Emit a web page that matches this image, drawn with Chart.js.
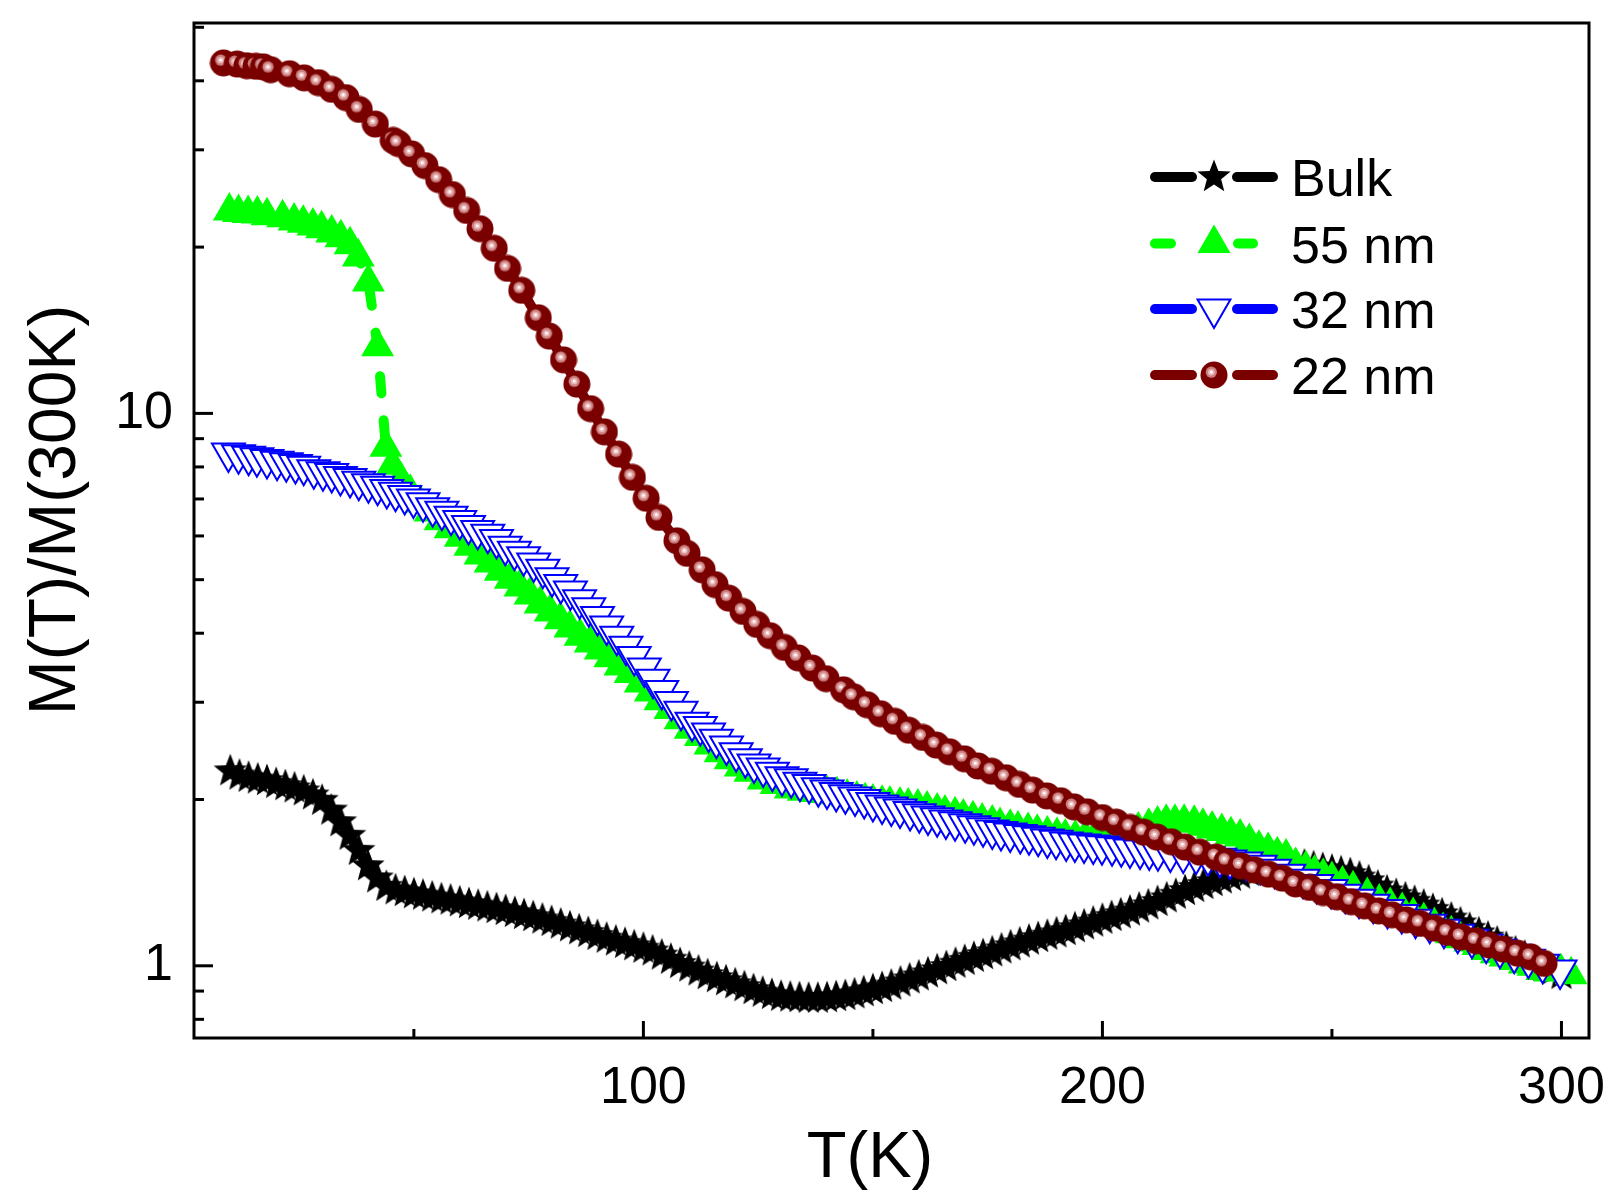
<!DOCTYPE html>
<html>
<head>
<meta charset="utf-8">
<script src="https://cdn.jsdelivr.net/npm/chart.js@4.4.1/dist/chart.umd.min.js"></script>
<style>
  html, body { margin: 0; padding: 0; background: #fff; }
  #wrap { width: 1604px; height: 1195px; }
</style>
</head>
<body>
<div id="wrap"><canvas id="chart" width="1604" height="1195"></canvas></div>
<script>
// Bulk
const tBulk = [10,12,14,16,18,20,22,24,26,28,
  30,32,34,36,38,40,42,44,46,48,
  50,52,54,56,58,60,62,64,66,68,
  70,72,74,76,78,80,82,84,86,88,
  90,92,94,96,98,100,102,104,106,108,
  110,112,114,116,118,120,122,124,126,128,
  130,132,134,136,138,140,142,144,146,148,
  150,152,154,156,158,160,162,164,166,168,
  170,172,174,176,178,180,182,184,186,188,
  190,192,194,196,198,200,202,204,206,208,
  210,212,214,216,218,220,222,224,226,228,
  230,232,234,236,238,240,242,244,246,248,
  250,252,254,256,258,260,262,264,266,268,
  270,272,274,276,278,280,282,284,286,288,
  290,292,294,296,298,300];
const mBulk = [2.25,2.21,2.19,2.175,2.16,2.135,2.115,2.095,2.07,2.035,
  1.99,1.91,1.82,1.72,1.615,1.515,1.44,1.39,1.37,1.36,
  1.348,1.34,1.33,1.32,1.313,1.303,1.294,1.285,1.276,1.267,
  1.257,1.247,1.236,1.225,1.213,1.201,1.188,1.174,1.160,1.147,
  1.133,1.12,1.107,1.096,1.085,1.074,1.062,1.044,1.026,1.008,
  0.993,0.977,0.962,0.95,0.938,0.926,0.915,0.904,0.894,0.886,
  0.879,0.876,0.874,0.872,0.872,0.874,0.878,0.882,0.888,0.896,
  0.904,0.912,0.921,0.933,0.945,0.957,0.969,0.982,0.995,1.009,
  1.021,1.034,1.046,1.058,1.071,1.085,1.098,1.111,1.123,1.134,
  1.145,1.156,1.17,1.184,1.198,1.212,1.226,1.24,1.254,1.27,
  1.287,1.305,1.325,1.345,1.366,1.384,1.401,1.418,1.434,1.449,
  1.463,1.478,1.489,1.50,1.513,1.518,1.52,1.519,1.508,1.498,
  1.487,1.477,1.466,1.445,1.423,1.392,1.364,1.344,1.325,1.306,
  1.286,1.263,1.24,1.218,1.194,1.167,1.145,1.125,1.102,1.078,
  1.058,1.039,1.018,0.996,0.98,0.963];

// 55 nm
const t55 = [9.8,11.8,13.9,15.9,18.0,21.4,23.9,25.9,28.0,29.9,
  32.1,34.1,36.1,37.9,40.1,42.1,43.9,45.3,47.2,49.2,
  51.4,53.5,55.7,57.9,60.1,62.2,64.4,66.6,68.8,71.0,
  73.1,75.3,77.5,79.7,81.9,84.0,86.2,88.4,90.6,92.7,
  94.9,97.1,99.3,101.5,103.6,105.8,108.0,110.2,112.4,114.5,
  116.7,118.9,121.1,123.2,126.1,128.9,132.0,134.8,137.6,140.0,
  142.2,144.4,146.5,148.3,150.0,152.0,153.7,155.9,157.7,159.8,
  161.8,164.0,165.7,167.9,169.7,171.8,173.8,176.0,177.7,179.9,
  181.6,183.8,185.8,188.0,190.1,191.9,194.1,196.2,198.4,200.6,
  202.8,204.9,207.8,210.1,212.0,213.9,215.8,217.8,220.0,221.9,
  223.9,226.0,228.0,230.0,232.0,234.1,236.1,238.1,240.0,242.1,
  244.3,246.2,248.1,250.0,252.3,254.6,257.7,260.3,262.7,265.3,
  267.7,270.0,272.3,274.2,276.0,277.9,280.0,281.8,283.8,285.8,
  287.7,289.9,291.9,293.8,295.7,297.5,299.9,302.1];
const m55 = [23.26,23.1,23.0,22.95,22.8,22.6,22.3,22.1,21.85,21.6,
  21.2,20.8,20.2,19.2,17.3,13.2,8.68,8.06,7.57,7.20,
  6.88,6.63,6.39,6.18,5.97,5.75,5.54,5.36,5.18,5.01,
  4.85,4.69,4.52,4.37,4.23,4.09,3.95,3.84,3.73,3.61,
  3.49,3.38,3.25,3.13,3.02,2.91,2.79,2.68,2.60,2.51,
  2.43,2.36,2.29,2.24,2.17,2.13,2.09,2.07,2.06,2.05,
  2.04,2.02,2.005,1.99,1.98,1.97,1.963,1.955,1.947,1.939,
  1.923,1.907,1.891,1.876,1.860,1.845,1.829,1.814,1.794,1.782,
  1.769,1.757,1.745,1.733,1.721,1.710,1.704,1.704,1.712,1.726,
  1.740,1.755,1.762,1.789,1.806,1.820,1.820,1.820,1.812,1.789,
  1.769,1.750,1.726,1.710,1.679,1.633,1.617,1.588,1.573,1.519,
  1.498,1.473,1.453,1.433,1.407,1.378,1.340,1.304,1.286,1.259,
  1.233,1.208,1.183,1.158,1.143,1.119,1.104,1.088,1.066,1.051,
  1.037,1.022,1.008,0.998,0.981,0.974,0.975,0.963];

// 32 nm
const t32 = [9.6,11.8,14.0,15.8,18.0,20.2,22.2,24.2,26.0,28.2,
  30.2,32.1,34.0,36.1,38.0,40.1,42.1,44.1,46.0,48.0,
  49.9,52.0,54.1,56.1,58.1,60.0,61.9,63.9,66.1,68.0,
  69.9,71.9,73.9,76.1,78.1,80.1,82.0,84.1,86.1,88.1,
  90.0,92.0,94.2,96.2,98.0,100.2,102.1,104.0,106.1,108.2,
  110.6,112.4,114.2,115.9,118.1,120.2,122.2,124.1,126.1,128.1,
  130.2,132.2,134.1,136.1,138.1,140.0,142.0,144.0,146.1,148.1,
  150.0,152.0,154.0,155.9,158.1,160.1,162.0,164.0,165.9,167.9,
  170.1,172.0,174.0,176.0,177.9,179.9,182.1,184.0,186.0,188.0,
  189.9,192.1,194.0,196.0,198.0,199.9,202.1,204.1,206.0,208.2,
  210.2,212.1,214.8,217.6,220.4,223.0,225.6,227.8,231.3,234.4,
  237.5,240.6,243.7,246.7,249.8,252.9,255.9,259.0,262.1,265.2,
  268.2,271.3,274.4,277.4,280.5,283.6,286.6,289.7,292.8,295.9,299.7];
const m32 = [8.48,8.42,8.36,8.31,8.25,8.19,8.14,8.08,8.02,7.91,
  7.84,7.78,7.69,7.62,7.54,7.46,7.38,7.28,7.20,7.10,
  7.00,6.89,6.75,6.65,6.51,6.40,6.27,6.14,6.04,5.91,
  5.75,5.63,5.50,5.36,5.22,5.04,4.90,4.77,4.60,4.45,
  4.29,4.12,3.95,3.79,3.63,3.46,3.30,3.15,3.01,2.89,
  2.76,2.71,2.64,2.57,2.50,2.43,2.37,2.32,2.28,2.24,
  2.20,2.18,2.15,2.13,2.10,2.08,2.06,2.04,2.02,2.00,
  1.976,1.955,1.939,1.923,1.903,1.884,1.868,1.853,1.837,1.822,
  1.807,1.792,1.777,1.762,1.751,1.740,1.729,1.719,1.708,1.697,
  1.687,1.676,1.669,1.662,1.655,1.649,1.642,1.635,1.628,1.621,
  1.614,1.608,1.601,1.594,1.585,1.575,1.565,1.555,1.542,1.520,
  1.495,1.464,1.434,1.404,1.375,1.347,1.319,1.292,1.265,1.239,
  1.214,1.189,1.164,1.140,1.117,1.094,1.071,1.049,1.028,1.006,0.983];

// 22 nm
const t22 = [8.5,11.5,13.6,15.6,17.2,18.8,22.9,26.1,29.2,32.1,
  35.2,38.1,41.6,45.5,46.6,49.5,52.4,55.4,58.4,61.5,
  64.4,67.5,70.4,73.5,77.1,79.5,82.6,85.5,88.5,91.5,
  94.6,97.6,100.6,103.4,107.3,109.5,112.8,115.6,118.6,121.7,
  124.7,127.6,130.7,133.7,136.8,139.8,143.6,145.8,148.7,151.7,
  154.8,157.8,160.9,163.8,166.7,169.9,172.9,175.9,179.0,181.9,
  184.8,187.9,190.9,193.8,196.7,200.0,203.0,206.1,209.0,211.9,
  215.0,218.0,221.2,224.8,227.1,230.2,233.1,236.2,239.2,242.1,
  245.2,248.1,251.1,254.2,257.1,260.2,263.1,266.2,269.2,272.3,
  275.2,278.1,281.4,284.3,287.3,290.4,293.3,296.2];
const m22 = [43.1,42.9,42.6,42.5,42.4,41.9,41.2,40.5,39.7,38.6,
  37.3,35.5,33.4,31.2,30.8,29.5,28.1,26.5,24.9,23.3,
  21.6,19.9,18.3,16.7,14.9,13.8,12.5,11.3,10.2,9.26,
  8.44,7.66,7.02,6.48,5.88,5.58,5.21,4.90,4.63,4.38,
  4.15,3.96,3.77,3.61,3.46,3.31,3.16,3.07,2.97,2.86,
  2.77,2.67,2.59,2.51,2.44,2.37,2.30,2.25,2.19,2.13,
  2.08,2.03,1.99,1.94,1.90,1.855,1.82,1.78,1.745,1.71,
  1.677,1.64,1.606,1.573,1.544,1.517,1.492,1.465,1.441,1.407,
  1.386,1.357,1.333,1.306,1.284,1.257,1.237,1.211,1.193,1.170,
  1.149,1.128,1.110,1.091,1.072,1.054,1.038,1.01];

// axis ticks
const xMajor = [100, 200, 300];
const xMinor = [50, 150, 250];
const yMajor = [1, 10];
const yMinor = [0.8, 0.9, 2, 3, 4, 5, 6, 7, 8, 9, 20, 30, 40, 50];

const FONT = '"Liberation Sans", Arial, sans-serif';

const pts = (t, m) => t.map((v, i) => ({ x: v, y: m[i] }));

// filled 5-point star marker
function makeStar() {
    const c = document.createElement('canvas');
    c.width = 38; c.height = 38;
    const g = c.getContext('2d');
    g.fillStyle = '#000';
    g.beginPath();
    for (let i = 0; i < 10; i++) {
        const r = i % 2 ? 7.5 : 17.5;
        const a = -Math.PI / 2 + i * Math.PI / 5;
        g.lineTo(19 + r * Math.cos(a), 19 + r * Math.sin(a));
    }
    g.closePath();
    g.fill();
    return c;
}

// shaded ball marker
function makeBall() {
    const c = document.createElement('canvas');
    c.width = 28; c.height = 28;
    const g = c.getContext('2d');
    const disc = (x, y, r, col) => { g.fillStyle = col; g.beginPath(); g.arc(x, y, r, 0, Math.PI * 2); g.fill(); };
    disc(14, 14, 13.5, '#7a0000');
    disc(11.3, 11.2, 5.6, '#cc8080');
    disc(11.3, 11.2, 3.3, '#eab8b8');
    disc(11.3, 11.2, 1.4, '#ffffff');
    return c;
}

const starImg = makeStar();
const ballImg = makeBall();

const decor = {
    id: 'decor',
    afterDraw(chart) {
        const { ctx, chartArea: a, scales: { x, y } } = chart;
        ctx.save();
        ctx.strokeStyle = '#000';
        ctx.lineWidth = 3;
        ctx.lineCap = 'butt';
        ctx.strokeRect(a.left, a.top, a.right - a.left, a.bottom - a.top);

        const seg = (x1, y1, x2, y2) => { ctx.beginPath(); ctx.moveTo(x1, y1); ctx.lineTo(x2, y2); ctx.stroke(); };
        xMajor.forEach(v => { const p = x.getPixelForValue(v); seg(p, a.bottom, p, a.bottom - 17); });
        xMinor.forEach(v => { const p = x.getPixelForValue(v); seg(p, a.bottom, p, a.bottom - 9); });
        yMajor.forEach(v => { const p = y.getPixelForValue(v); seg(a.left, p, a.left + 19, p); });
        yMinor.forEach(v => { const p = y.getPixelForValue(v); seg(a.left, p, a.left + 10, p); });

        // axis titles
        ctx.fillStyle = '#000';
        ctx.textAlign = 'center';
        ctx.textBaseline = 'middle';
        ctx.font = '65px ' + FONT;
        ctx.fillText('T(K)', 870, 1159);
        ctx.save();
        ctx.translate(57, 510);
        ctx.rotate(-Math.PI / 2);
        ctx.font = '66px ' + FONT;
        ctx.fillText('M(T)/M(300K)', 0, 0);
        ctx.restore();

        // legend
        const rows = [177, 243.5, 309, 375];
        const mx = 1214;
        ctx.lineCap = 'round';
        ctx.lineWidth = 10;
        const legLine = (yy, col, dashed) => {
            ctx.strokeStyle = col;
            if (dashed) {
                seg(1155, yy, 1171, yy);
                seg(1238, yy, 1253, yy);
            } else {
                seg(1155, yy, 1192, yy);
                seg(1237, yy, 1273, yy);
            }
        };
        legLine(rows[0], '#000', false);
        ctx.drawImage(starImg, mx - 19, rows[0] - 19);

        legLine(rows[1], '#00ff00', true);
        ctx.fillStyle = '#00ff00';
        Chart.helpers.drawPoint(ctx, { pointStyle: 'triangle', radius: 19, rotation: 0, borderWidth: 0 }, mx, rows[1]);

        legLine(rows[2], '#0000ff', false);
        ctx.fillStyle = '#fff';
        ctx.strokeStyle = '#0000ff';
        ctx.lineWidth = 2;
        ctx.lineCap = 'butt';
        Chart.helpers.drawPoint(ctx, { pointStyle: 'triangle', radius: 19, rotation: 180, borderWidth: 2 }, mx, rows[2]);
        ctx.lineWidth = 10;
        ctx.lineCap = 'round';

        legLine(rows[3], '#7a0000', false);
        ctx.drawImage(ballImg, mx - 14, rows[3] - 14);

        ctx.fillStyle = '#000';
        ctx.font = '52px ' + FONT;
        ctx.textAlign = 'left';
        ctx.textBaseline = 'alphabetic';
        ['Bulk', '55 nm', '32 nm', '22 nm'].forEach((s, i) => ctx.fillText(s, 1291, rows[i] + 19));
        ctx.restore();
    }
};

const common = { showLine: true, fill: false, borderWidth: 10, borderCapStyle: 'round', borderJoinStyle: 'round', tension: 0 };

new Chart(document.getElementById('chart'), {
    type: 'scatter',
    data: {
        datasets: [
            { ...common, label: 'Bulk', data: pts(tBulk, mBulk), borderColor: '#000', pointStyle: starImg, pointRadius: 18, order: 3 },
            { ...common, label: '55 nm', data: pts(t55, m55), borderColor: '#00ff00', borderDash: [17, 27],
              pointStyle: 'triangle', pointRadius: 19, pointBackgroundColor: '#00ff00', pointBorderWidth: 0, order: 2 },
            { ...common, label: '32 nm', data: pts(t32, m32), borderColor: '#0000ff',
              pointStyle: 'triangle', pointRotation: 180, pointRadius: 19, pointBackgroundColor: '#fff',
              pointBorderColor: '#0000ff', pointBorderWidth: 2, order: 1 },
            { ...common, label: '22 nm', data: pts(t22, m22), borderColor: '#7a0000', pointStyle: ballImg, pointRadius: 14, order: 0 }
        ]
    },
    options: {
        responsive: false,
        animation: false,
        layout: { autoPadding: false, padding: { top: 23, right: 15, left: 0, bottom: 0 } },
        plugins: { legend: { display: false }, tooltip: { enabled: false } },
        scales: {
            x: {
                type: 'linear', min: 2.1, max: 306,
                grid: { display: false, drawTicks: false }, border: { display: false },
                ticks: {
                    stepSize: 50, includeBounds: false, autoSkip: false, maxRotation: 0, padding: 19,
                    color: '#000', font: { family: FONT, size: 52 },
                    callback: v => v % 100 === 0 ? String(v) : ''
                },
                afterFit: s => { s.height = 157; s.paddingLeft = 0; s.paddingRight = 0; }
            },
            y: {
                type: 'logarithmic', min: 0.7401, max: 50.9, bounds: 'data',
                grid: { display: false, drawTicks: false }, border: { display: false },
                ticks: {
                    autoSkip: false, padding: 21, color: '#000', font: { family: FONT, size: 52 },
                    callback: v => (v === 1 || v === 10) ? String(v) : ''
                },
                afterFit: s => { s.width = 194; s.paddingTop = 0; s.paddingBottom = 0; }
            }
        }
    },
    plugins: [decor]
});
</script>
</body>
</html>
